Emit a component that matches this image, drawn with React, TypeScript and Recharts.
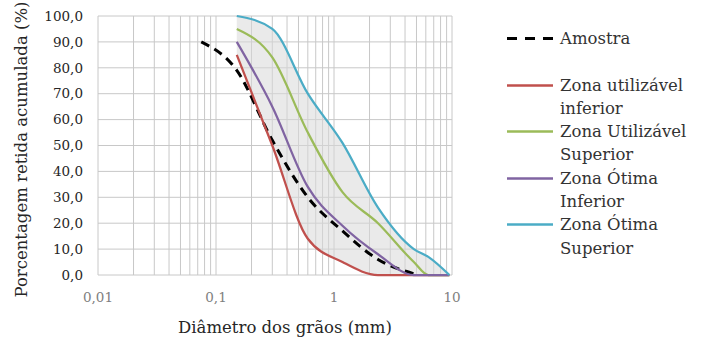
import React from 'react';
import { ComposedChart, Line, Area, XAxis, YAxis, CartesianGrid, Legend } from 'recharts';

// peneiras (mm) e % retida acumulada das zonas limite
const sieves = [0.15, 0.3, 0.6, 1.18, 2.36, 4.75, 6.3, 9.5];
const zonaUtilInferior = [85, 50, 14, 5, 0, 0, 0, 0];
const zonaUtilSuperior = [95, 84, 55, 32, 20, 5, 0, 0];
const zonaOtimaInferior = [90, 65, 34, 19, 8, 0, 0, 0];
const zonaOtimaSuperior = [100, 95, 70, 51, 26, 10, 7, 0];

// amostra ensaiada
const amostraSieves = [0.075, 0.15, 0.3, 0.6, 1.18, 2.36, 4.75];
const amostra = [90, 79, 52, 30, 17, 6, 0.5];

const xTicks = [
    0.01, 0.02, 0.03, 0.04, 0.05, 0.06, 0.07, 0.08, 0.09,
    0.1, 0.2, 0.3, 0.4, 0.5, 0.6, 0.7, 0.8, 0.9,
    1, 2, 3, 4, 5, 6, 7, 8, 9,
    10
];
const xLabels = [0.01, 0.1, 1, 10];
const yTicks = [0, 10, 20, 30, 40, 50, 60, 70, 80, 90, 100];

const FONT = '"DejaVu Serif", serif';

const toPoints = (xs: number[], ys: number[]) => xs.map((x, i) => ({ x, y: ys[i] }));

const series = [
    { name: 'Amostra', lines: ['Amostra', ''], color: '#000000', dashed: true, data: toPoints(amostraSieves, amostra) },
    { name: 'Zona utilizável inferior', lines: ['Zona utilizável', 'inferior'], color: '#c0504d', dashed: false, data: toPoints(sieves, zonaUtilInferior) },
    { name: 'Zona Utilizável Superior', lines: ['Zona Utilizável', 'Superior'], color: '#9bbb59', dashed: false, data: toPoints(sieves, zonaUtilSuperior) },
    { name: 'Zona Ótima Inferior', lines: ['Zona Ótima', 'Inferior'], color: '#8064a2', dashed: false, data: toPoints(sieves, zonaOtimaInferior) },
    { name: 'Zona Ótima Superior', lines: ['Zona Ótima', 'Superior'], color: '#4bacc6', dashed: false, data: toPoints(sieves, zonaOtimaSuperior) }
];

// faixa sombreada entre o limite inferior e o superior
const envelope = sieves.map((x, i) => ({ x, range: [zonaUtilInferior[i], zonaOtimaSuperior[i]] }));

const fmtY = (v: number) => v.toFixed(1).replace('.', ',');
const fmtX = (v: number) => (xLabels.includes(v) ? String(v).replace('.', ',') : '');

const YTitle = (props: any) => {
    const vb = props.viewBox;
    const x = vb.x + 21;
    const y = vb.y + vb.height / 2 + 4;
    return (
        <text x={x} y={y} transform={`rotate(-90, ${x}, ${y})`} textAnchor="middle" dominantBaseline="central"
            fill="#262626" style={{ fontFamily: FONT, fontSize: 16.5 }}>
            Porcentagem retida acumulada (%)
        </text>
    );
};

const XTitle = (props: any) => {
    const vb = props.viewBox;
    return (
        <text x={vb.x + vb.width / 2 + 10} y={vb.y + 52} textAnchor="middle" dominantBaseline="central"
            fill="#262626" style={{ fontFamily: FONT, fontSize: 16.5 }}>
            Diâmetro dos grãos (mm)
        </text>
    );
};

const LegendBox = () => (
    <div style={{ fontFamily: FONT, fontSize: 16.5, color: '#333', lineHeight: '23.3px' }}>
        {series.map(s => (
            <div key={s.name} style={{ display: 'flex', alignItems: 'flex-start' }}>
                <svg width={53} height={23} style={{ flexShrink: 0 }}>
                    <line x1={0} x2={46} y1={11.5} y2={11.5} stroke={s.color}
                        strokeWidth={s.dashed ? 3 : 2.5} strokeDasharray={s.dashed ? '10 8' : undefined} />
                </svg>
                <div style={{ whiteSpace: 'nowrap' }}>
                    <div>{s.lines[0]}</div>
                    <div style={{ height: 23.3 }}>{s.lines[1]}</div>
                </div>
            </div>
        ))}
    </div>
);

const App: React.FC = () => {
    return (
        <div style={{ position: 'absolute', left: 0, top: 0, width: 706, height: 338, background: '#fff' }}>
            <ComposedChart width={706} height={338} margin={{ top: 16, right: 254, bottom: 0, left: 0 }}>
                <CartesianGrid stroke="#c8c8c8" strokeWidth={1} />
                <XAxis
                    dataKey="x"
                    type="number"
                    scale="log"
                    domain={[0.01, 10]}
                    ticks={xTicks}
                    tickFormatter={fmtX}
                    interval={0}
                    allowDataOverflow
                    height={63}
                    axisLine={false}
                    tickLine={false}
                    tickSize={0}
                    tickMargin={17}
                    tick={{ fill: '#7f7f7f', fontSize: 13.5, fontFamily: FONT }}
                    label={XTitle}
                />
                <YAxis
                    type="number"
                    domain={[0, 100]}
                    ticks={yTicks}
                    tickFormatter={fmtY}
                    interval={0}
                    width={98}
                    axisLine={false}
                    tickLine={false}
                    tickSize={0}
                    tickMargin={15}
                    tick={{ fill: '#262626', fontSize: 13.5, fontFamily: FONT }}
                    label={YTitle}
                />
                <Area
                    data={envelope}
                    dataKey="range"
                    type="monotone"
                    fill="#d9d9d9"
                    fillOpacity={0.55}
                    stroke="none"
                    legendType="none"
                    isAnimationActive={false}
                />
                {series.map(s => (
                    <Line
                        key={s.name}
                        data={s.data}
                        dataKey="y"
                        name={s.name}
                        type="monotone"
                        stroke={s.color}
                        strokeWidth={s.dashed ? 3 : 2.25}
                        strokeDasharray={s.dashed ? '9 6' : undefined}
                        dot={false}
                        activeDot={false}
                        isAnimationActive={false}
                    />
                ))}
                <Legend
                    layout="horizontal"
                    align="center"
                    verticalAlign="middle"
                    content={LegendBox}
                    wrapperStyle={{ left: 507, top: 27, width: 199, height: 240 }}
                />
            </ComposedChart>
        </div>
    );
};

export default App;
